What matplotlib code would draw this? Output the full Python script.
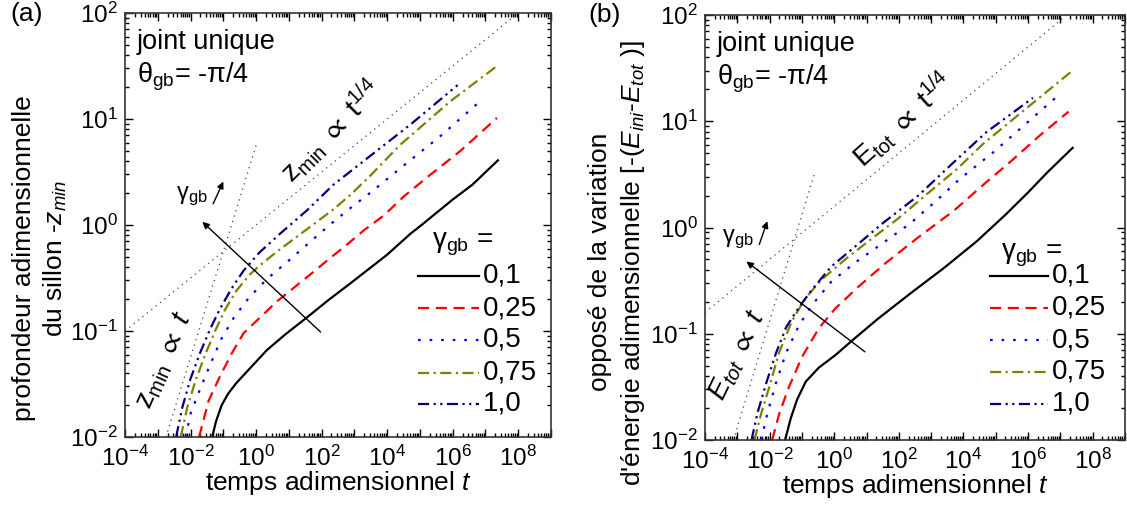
import numpy as np
import matplotlib
matplotlib.use("Agg")
import matplotlib.pyplot as plt
from matplotlib.ticker import LogLocator, FuncFormatter, NullFormatter

plt.rcParams['font.family'] = ['Liberation Sans', 'DejaVu Sans']
plt.rcParams['mathtext.fontset'] = 'custom'
plt.rcParams['mathtext.rm'] = 'Liberation Sans'
plt.rcParams['mathtext.it'] = 'Liberation Sans:italic'
plt.rcParams['mathtext.bf'] = 'Liberation Sans:bold'
plt.rcParams['mathtext.sf'] = 'Liberation Sans'
plt.rcParams['mathtext.fallback'] = 'stixsans'

# ---------------- data (log10 exponents) ----------------
gamma_labels = ["0,1", "0,25", "0,5", "0,75", "1,0"]
colors = ["black", "#ff0000", "#0000ff", "#808000", "#000080"]

# panel (a): -z_min vs t
a_logt_01 = [-1.34, -1.22, -1.05, -0.85, -0.6, -0.3, 0.33, 0.9, 1.56, 2.2, 2.88, 4.0, 4.72, 5.05, 6.0, 6.6, 7.38]
a_logy_01 = [-2.0, -1.85, -1.70, -1.59, -1.49, -1.39, -1.18, -1.03, -0.87, -0.71, -0.55, -0.28, -0.08, 0.0, 0.24, 0.38, 0.61]
a_logt_025 = [-1.74, -1.45, -1.09, -0.74, -0.38, 0.13, 0.64, 1.2, 1.76, 2.27, 2.83, 3.29, 3.9, 4.51, 5.3, 6.24, 7.35]
a_logy_025 = [-2.0, -1.66, -1.42, -1.21, -1.02, -0.87, -0.72, -0.58, -0.44, -0.31, -0.17, -0.05, 0.09, 0.27, 0.47, 0.70, 1.01]
a_logt_05 = [-2.15, -2.0, -1.75, -1.5, -1.07, -0.69, -0.23, 0.33, 0.98, 1.61, 2.24, 2.88, 3.51, 4.5, 5.63, 6.92]
a_logy_05 = [-2.0, -1.78, -1.58, -1.39, -1.08, -0.88, -0.69, -0.51, -0.34, -0.17, 0.0, 0.16, 0.31, 0.56, 0.84, 1.19]
a_logt_075 = [-2.3, -2.1, -1.85, -1.55, -1.25, -0.95, -0.6, -0.2, 0.08, 0.64, 1.25, 1.81, 2.37, 2.9, 3.5, 4.41, 5.94, 7.31]
a_logy_075 = [-2.0, -1.72, -1.47, -1.22, -1.0, -0.80, -0.62, -0.47, -0.39, -0.25, -0.11, 0.02, 0.15, 0.29, 0.47, 0.76, 1.17, 1.49]
a_logt_10 = [-2.44, -2.25, -2.0, -1.7, -1.4, -1.1, -0.75, -0.38, 0.1, 0.74, 1.56, 2.36, 3.89, 4.72, 6.15]
a_logy_10 = [-2.0, -1.72, -1.45, -1.20, -0.98, -0.79, -0.60, -0.43, -0.26, -0.08, 0.14, 0.38, 0.75, 0.95, 1.32]

# panel (b): -(E_ini - E_tot) vs t
b_logt_01 = [-1.52, -1.35, -1.15, -0.88, -0.48, 0.04, 0.53, 1.35, 2.36, 3.4, 4.41, 5.3, 6.0, 6.6, 7.38]
b_logy_01 = [-2.0, -1.80, -1.62, -1.45, -1.32, -1.20, -1.07, -0.86, -0.62, -0.38, -0.13, 0.12, 0.33, 0.52, 0.75]
b_logt_025 = [-1.92, -1.7, -1.4, -1.0, -0.48, 0.04, 0.74, 1.57, 2.57, 3.71, 4.72, 5.42, 6.34, 7.25]
b_logy_025 = [-2.0, -1.75, -1.5, -1.22, -0.95, -0.76, -0.56, -0.34, -0.1, 0.16, 0.43, 0.61, 0.86, 1.09]
b_logt_05 = [-2.26, -2.07, -1.8, -1.49, -1.09, -0.69, -0.09, 0.65, 1.35, 2.36, 3.19, 3.86, 4.93, 5.57, 6.92]
b_logy_05 = [-2.0, -1.75, -1.46, -1.18, -0.92, -0.73, -0.51, -0.33, -0.18, 0.04, 0.26, 0.45, 0.71, 0.88, 1.24]
b_logt_075 = [-2.47, -2.26, -2.01, -1.71, -1.31, -0.88, -0.39, 0.34, 1.14, 1.96, 2.97, 3.8, 4.62, 5.94, 7.31]
b_logy_075 = [-2.0, -1.75, -1.5, -1.18, -0.88, -0.66, -0.49, -0.30, -0.11, 0.08, 0.34, 0.55, 0.79, 1.12, 1.46]
b_logt_10 = [-2.56, -2.38, -2.1, -1.8, -1.49, -1.09, -0.7, -0.1, 0.8, 1.5, 2.6, 3.72, 4.72, 6.15]
b_logy_10 = [-2.0, -1.75, -1.46, -1.18, -0.94, -0.75, -0.59, -0.37, -0.14, 0.04, 0.3, 0.62, 0.9, 1.22]

# guide lines (log10 end points)
a_quarter_logt = [-4.0, 8.0]
a_quarter_logy = [-1.0, 2.0]
a_linear_logt = [-2.75, 0.0]
a_linear_logy = [-2.0, 0.75]
b_quarter_logt = [-4.0, 7.2]
b_quarter_logy = [-0.8, 2.0]
b_linear_logt = [-3.12, -0.6]
b_linear_logy = [-2.0, 0.52]

series_a = [(a_logt_01, a_logy_01), (a_logt_025, a_logy_025), (a_logt_05, a_logy_05),
            (a_logt_075, a_logy_075), (a_logt_10, a_logy_10)]
series_b = [(b_logt_01, b_logy_01), (b_logt_025, b_logy_025), (b_logt_05, b_logy_05),
            (b_logt_075, b_logy_075), (b_logt_10, b_logy_10)]

dash_styles = ['-', (0, (5, 3)), (0, (1.2, 4)), (0, (5, 2, 1, 2)), (0, (5, 2, 1, 2, 1, 2))]

# ---------------- figure ----------------
W, H = 1127, 508
fig = plt.figure(figsize=(W / 100, H / 100), dpi=100)
axA = fig.add_axes([125 / W, 1 - 437 / H, 426 / W, 424 / H])
axB = fig.add_axes([705 / W, 1 - 440 / H, 420 / W, 425 / H])


def fmt_x(v, pos):
    e = int(round(np.log10(v)))
    return r'$10^{%d}$' % e if e % 2 == 0 else ''


def fmt_y(v, pos):
    e = int(round(np.log10(v)))
    return r'$10^{%d}$' % e


def style_axes(ax):
    ax.set_xscale('log')
    ax.set_yscale('log')
    ax.set_xlim(1e-4, 1e9)
    ax.set_ylim(1e-2, 1e2)
    ax.xaxis.set_major_locator(LogLocator(base=10, numticks=30))
    ax.xaxis.set_minor_locator(LogLocator(base=10, subs=np.arange(2, 10), numticks=30))
    ax.yaxis.set_major_locator(LogLocator(base=10, numticks=30))
    ax.yaxis.set_minor_locator(LogLocator(base=10, subs=np.arange(2, 10), numticks=30))
    ax.xaxis.set_major_formatter(FuncFormatter(fmt_x))
    ax.yaxis.set_major_formatter(FuncFormatter(fmt_y))
    ax.xaxis.set_minor_formatter(NullFormatter())
    ax.yaxis.set_minor_formatter(NullFormatter())
    ax.tick_params(which='both', direction='in', top=True, right=True, width=1.0, labelsize=17.5)
    ax.tick_params(which='major', length=6)
    ax.tick_params(which='minor', length=3)
    ax.tick_params(axis='x', pad=6)
    ax.tick_params(axis='y', pad=5)
    for s in ax.spines.values():
        s.set_linewidth(1.2)
        s.set_color('#333333')


for ax, series in [(axA, series_a), (axB, series_b)]:
    style_axes(ax)
    for (lt, ly), c, ls in zip(series, colors, dash_styles):
        ax.plot(10 ** np.array(lt), 10 ** np.array(ly), color=c, lw=1.6, linestyle=ls)
    ax.set_xlabel(r'temps adimensionnel $t$', fontsize=19, labelpad=-1)

# guide lines
for ax, lt, ly in [(axA, a_quarter_logt, a_quarter_logy), (axA, a_linear_logt, a_linear_logy),
                   (axB, b_quarter_logt, b_quarter_logy), (axB, b_linear_logt, b_linear_logy)]:
    ax.plot(10 ** np.array(lt), 10 ** np.array(ly), color='#444444', lw=0.9, linestyle=(0, (1, 3.5)))

# arrows
arrow_kw = dict(arrowstyle='-|>', color='black', lw=1.0, mutation_scale=10, shrinkA=0, shrinkB=0)
axA.annotate('', xy=(10 ** -1.64, 10 ** 0.03), xytext=(10 ** 1.97, 10 ** -1.01), arrowprops=arrow_kw)
axA.annotate('', xy=(10 ** -1.0, 10 ** 0.41), xytext=(10 ** -1.31, 10 ** 0.2), arrowprops=arrow_kw)
axB.annotate('', xy=(10 ** -2.72, 10 ** -0.32), xytext=(10 ** 0.95, 10 ** -1.17), arrowprops=arrow_kw)
axB.annotate('', xy=(10 ** -2.07, 10 ** 0.06), xytext=(10 ** -2.32, 10 ** -0.16), arrowprops=arrow_kw)

axA.text(10 ** -1.95, 10 ** 0.27, r'γ$_{\rm gb}$', fontsize=17, ha='center', va='center')
axB.text(10 ** -2.99, 10 ** -0.11, r'γ$_{\rm gb}$', fontsize=17, ha='center', va='center')

# rotated annotations
axA.text(10 ** 2.27, 10 ** 0.89, r'z$_{\rm min}$ $\propto$ t$^{1/4}$', fontsize=20.5, rotation=45,
         ha='center', va='center', rotation_mode='anchor')
axA.text(10 ** -2.81, 10 ** -1.28, r'z$_{\rm min}$ $\propto$ $t$', fontsize=20.5, rotation=66,
         ha='center', va='center', rotation_mode='anchor')
axB.text(10 ** 2.12, 10 ** 1.02, r'E$_{\rm tot}$ $\propto$ t$^{1/4}$', fontsize=20.5, rotation=42,
         ha='center', va='center', rotation_mode='anchor')
axB.text(10 ** -2.99, 10 ** -1.2, r'$E_{tot}$ $\propto$ $t$', fontsize=20.5, rotation=64,
         ha='center', va='center', rotation_mode='anchor')

# header texts
for ax in (axA, axB):
    ax.text(0.028, 0.932, 'joint unique', transform=ax.transAxes, fontsize=19.5, ha='left', va='center')
    ax.text(0.028, 0.849, r'θ$_{\rm gb}$= -π/4', transform=ax.transAxes, fontsize=19.5,
            ha='left', va='center')

# legends drawn in axes fraction
leg_a = dict(x0=0.688, x1=0.831, xt=0.840, rows=[0.380, 0.304, 0.229, 0.151, 0.078], title=(0.793, 0.455))
leg_b = dict(x0=0.678, x1=0.817, xt=0.826, rows=[0.386, 0.311, 0.235, 0.160, 0.085], title=(0.777, 0.435))
for ax, L in [(axA, leg_a), (axB, leg_b)]:
    ax.text(L['title'][0], L['title'][1], r'γ$_{\rm gb}$ =', transform=ax.transAxes, fontsize=20,
            ha='center', va='center')
    for lab, c, ls, yy in zip(gamma_labels, colors, dash_styles, L['rows']):
        ax.plot([L['x0'], L['x1']], [yy, yy], transform=ax.transAxes, color=c, lw=1.6, linestyle=ls)
        ax.text(L['xt'], yy, lab, transform=ax.transAxes, fontsize=20, ha='left', va='center')

# y labels
fig.text(24 / W, 1 - 258 / H, 'profondeur adimensionnelle', rotation=90, fontsize=19, ha='center', va='center')
fig.text(55 / W, 1 - 258 / H, r'du sillon -$z_{min}$', rotation=90, fontsize=19, ha='center', va='center')
fig.text(600 / W, 1 - 262 / H, 'opposé de la variation', rotation=90, fontsize=19, ha='center', va='center')
fig.text(633 / W, 1 - 263 / H, r"d'énergie adimensionnelle [-($E_{ini}$-$E_{tot}$ )]", rotation=90,
         fontsize=19, ha='center', va='center')

# panel labels
fig.text(27 / W, 1 - 14 / H, '(a)', fontsize=19, ha='center', va='center')
fig.text(605 / W, 1 - 15 / H, '(b)', fontsize=19, ha='center', va='center')

fig.savefig('out.png', dpi=100)
